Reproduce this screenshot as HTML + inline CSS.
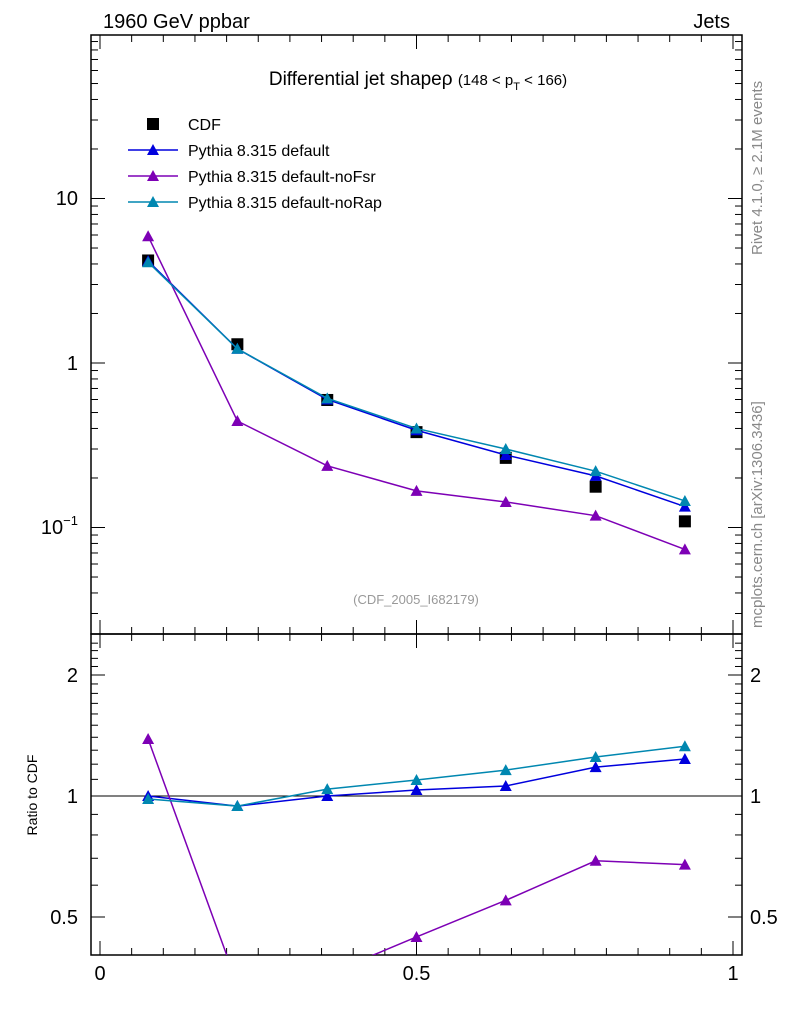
<!DOCTYPE html>
<html><head><meta charset="utf-8"><style>
body{margin:0;background:#fff;font-family:"Liberation Sans",sans-serif}
svg text{font-family:"Liberation Sans","DejaVu Sans",sans-serif}
</style></head><body>
<svg id="c" width="786" height="1024" xmlns="http://www.w3.org/2000/svg">
<text x="103" y="28" font-size="20">1960 GeV ppbar</text>
<text x="730" y="28" font-size="20" text-anchor="end">Jets</text>
<text x="418" y="85" font-size="19" text-anchor="middle">Differential jet shapeρ <tspan font-size="15">(148 &lt; p</tspan><tspan font-size="11" dy="5">T</tspan><tspan font-size="15" dy="-5"> &lt; 166)</tspan></text>
<text x="416" y="604" font-size="13" fill="#999" text-anchor="middle">(CDF_2005_I682179)</text>
<text transform="translate(762,255) rotate(-90)" font-size="15" fill="#888">Rivet 4.1.0, ≥ 2.1M events</text>
<text transform="translate(762,628) rotate(-90)" font-size="15" fill="#888">mcplots.cern.ch [arXiv:1306.3436]</text>
<text transform="translate(37,795) rotate(-90)" font-size="14" text-anchor="middle">Ratio to CDF</text>
<g id="axes"></g><g id="marks"></g><g id="legend"></g>
</svg>
<script>
const xs=[0.076,0.217,0.359,0.5,0.641,0.783,0.924];
const cdf=[4.2,1.30,0.596,0.38,0.265,0.177,0.109];
const pDefault=[4.17,1.22,0.60,0.39,0.276,0.206,0.134];
const pNoFsr=[5.9,0.444,0.237,0.167,0.143,0.118,0.0736];
const pNoRap=[4.1,1.22,0.61,0.40,0.30,0.22,0.145];
const rDefault=[1.0,0.944,1.0,1.035,1.059,1.18,1.236];
const rNoFsr=[1.386,0.34,0.36,0.446,0.55,0.69,0.675];
const rNoRap=[0.983,0.944,1.04,1.096,1.16,1.25,1.33];
const xTicks=[0,0.5,1];
const NS="http://www.w3.org/2000/svg";
const L=91,R=742,T=35,M=634,B=955;
const X=v=>100+v*633;
const Y=v=>363-Math.log10(v)*164.5;
const YR=v=>796-Math.log2(v)*121;
function el(t,a,p){const e=document.createElementNS(NS,t);for(const k in a)e.setAttribute(k,a[k]);p.appendChild(e);return e;}
const ax=document.getElementById('axes'),mk=document.getElementById('marks'),lg=document.getElementById('legend');
const defs=el('defs',{},ax);
const cp=el('clipPath',{id:'cm'},defs);el('rect',{x:L,y:T,width:R-L,height:M-T},cp);
const cr=el('clipPath',{id:'cr'},defs);el('rect',{x:L,y:M,width:R-L,height:B-M},cr);
let f=el('rect',{x:L,y:T,width:R-L,height:M-T,fill:'none',stroke:'#000','stroke-width':1.5},ax);

f=el('rect',{x:L,y:M,width:R-L,height:B-M,fill:'none',stroke:'#000','stroke-width':1.5},ax);

// x ticks
for(let i=0;i<=20;i++){const v=i*0.05;const x=X(v);const len=i%10==0?14:7;
 for(const [y0,d] of [[T,1],[M,-1],[M,1],[B,-1]]) el('line',{x1:x,x2:x,y1:y0,y2:y0+d*len,stroke:'#000'},ax);}
xTicks.forEach(v=>{const t=el('text',{x:X(v),y:980,'font-size':20,'text-anchor':'middle'},ax);t.textContent=v;
 });
// y log ticks main
for(let d=-2;d<=1;d++)for(let m=1;m<10;m++){const v=m*Math.pow(10,d);const y=Y(v);if(y<T||y>M)continue;const len=m==1?14:7;
 el('line',{x1:L,x2:L+len,y1:y,y2:y,stroke:'#000'},ax);el('line',{x1:R,x2:R-len,y1:y,y2:y,stroke:'#000'},ax);}
[['10',198],['1',363]].forEach(([s,y])=>{const t=el('text',{x:78,y:y+7,'font-size':20,'text-anchor':'end'},ax);t.textContent=s;
 });
{const t=el('text',{x:78,y:534,'font-size':20,'text-anchor':'end'},ax);t.innerHTML='10<tspan font-size="13" dy="-9">−1</tspan>';
 }
// ratio ticks
for(let v=0.4;v<=2.5;v+=0.1){const y=YR(v);if(y<M||y>B)continue;const maj=[0.5,1,2].some(a=>Math.abs(a-v)<1e-6);const len=maj?14:7;
 el('line',{x1:L,x2:L+len,y1:y,y2:y,stroke:'#000'},ax);el('line',{x1:R,x2:R-len,y1:y,y2:y,stroke:'#000'},ax);}
[['2',2],['1',1],['0.5',0.5]].forEach(([s,v])=>{for(const [x,a] of [[78,'end'],[750,'start']]){const t=el('text',{x:x,y:YR(v)+7,'font-size':20,'text-anchor':a},ax);t.textContent=s;
 }});
el('line',{x1:L,x2:R,y1:YR(1),y2:YR(1),stroke:'#000'},ax);
function tri(g,x,y,c){el('polygon',{points:`${x},${y-6} ${x-6},${y+5} ${x+6},${y+5}`,fill:c},g);}
function series(vals,fy,c,clip,name){const g=el('g',{'clip-path':`url(#${clip})`},mk);
 
 el('polyline',{points:vals.map((v,i)=>X(xs[i])+','+fy(v)).join(' '),fill:'none',stroke:c,'stroke-width':1.5},g);
 vals.forEach((v,i)=>tri(g,X(xs[i]),fy(v),c));}
const cD='#0000dd',cF='#7d00b5',cR='#0087b0';
{const g=el('g',{'clip-path':'url(#cm)'},mk);
 cdf.forEach((v,i)=>el('rect',{x:X(xs[i])-6,y:Y(v)-6,width:12,height:12,fill:'#000'},g));}
series(pDefault,Y,cD,'cm','series-default');
series(pNoFsr,Y,cF,'cm','series-nofsr');
series(pNoRap,Y,cR,'cm','series-norap');
series(rDefault,YR,cD,'cr','ratio-default');
series(rNoFsr,YR,cF,'cr','ratio-nofsr');
series(rNoRap,YR,cR,'cr','ratio-norap');
// legend
const items=[['CDF','#000',0],['Pythia 8.315 default',cD,1],['Pythia 8.315 default-noFsr',cF,1],['Pythia 8.315 default-noRap',cR,1]];
items.forEach(([s,c,t],i)=>{const y=124+i*26;const g=el('g',{},lg);
 
 if(t){el('line',{x1:128,x2:178,y1:y,y2:y,stroke:c,'stroke-width':1.5},g);tri(g,153,y,c);}
 else el('rect',{x:147,y:y-6,width:12,height:12,fill:'#000'},g);
 const tx=el('text',{x:188,y:y+6,'font-size':16},g);tx.textContent=s;});
</script>
</body></html>
